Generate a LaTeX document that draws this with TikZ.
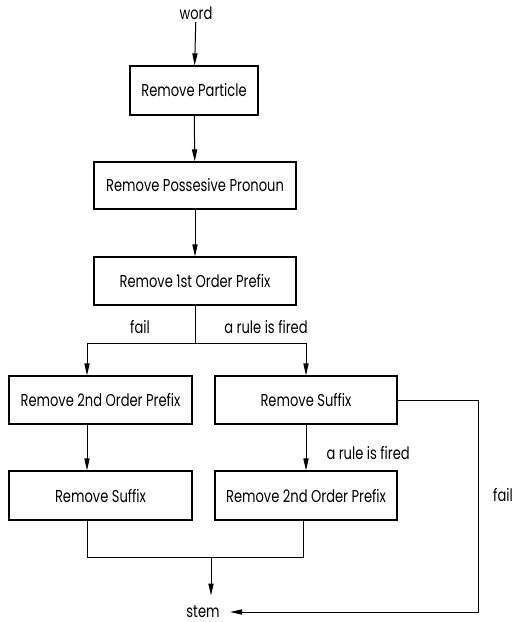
\documentclass[tikz,border=0pt]{standalone}
\usepackage{fontspec}
\newfontfamily\gfont[FakeStretch=0.76]{Poppins}
\usetikzlibrary{arrows.meta}
\tikzset{
  stepbox/.style={draw, line width=.6pt, inner sep=0pt},
  lbl/.style={inner sep=1pt},
}
\begin{document}
\begin{tikzpicture}[x=.5pt, y=-.5pt, font=\gfont\fontsize{8.6}{10}\selectfont, line width=.5pt,
  >={Triangle[length=6pt,width=2.6pt]}]
\useasboundingbox (0,0) rectangle (512,622);
% terminals
\node[lbl] (word) at (196,13) {word};
\node[lbl, inner xsep=5pt] (stem) at (203,612) {stem};
% boxes
\node[stepbox, minimum width=64pt, minimum height=24.5pt] (rpart) at (194,90.5) {Remove Particle};
\node[stepbox, minimum width=101pt, minimum height=23.5pt] (rposs) at (195,185.5) {Remove Possesive Pronoun};
\node[stepbox, minimum width=101pt, minimum height=24pt] (rpre1) at (195,281) {Remove 1st Order Prefix};
\node[stepbox, minimum width=91.5pt, minimum height=24pt] (rpre2a) at (100.5,400) {Remove 2nd Order Prefix};
\node[stepbox, minimum width=91pt, minimum height=24pt] (rsufa) at (306,400) {Remove Suffix};
\node[stepbox, minimum width=91.5pt, minimum height=24.5pt] (rsufb) at (100.5,495.5) {Remove Suffix};
\node[stepbox, minimum width=91pt, minimum height=24.5pt] (rpre2b) at (306,495.5) {Remove 2nd Order Prefix};
% branch points
\coordinate (split) at (195,343);
\coordinate (left) at (87,343);
\coordinate (right) at (306,343);
\coordinate (join) at (211,557);
\coordinate (loop) at (478,400);
% straight flow
\draw[->] (word) -- (rpart);
\draw[->] (rpart) -- (rposs);
\draw[->] (rposs) -- (rpre1);
\draw (rpre1.south -| split) -- (split);
\draw[->] (split) -- (left) -- (left |- rpre2a.north);
\draw[->] (split) -- (right) -- (right |- rsufa.north);
\draw[->] (left |- rpre2a.south) -- (left |- rsufb.north);
\draw[->] (rsufa.south) -- (rpre2b.north);
% merge into stem
\draw (left |- rsufb.south) -- (left |- join) -- (303,557) -- (303,521);
\draw[->, shorten >=4pt] (join) -- (join |- stem.north);
\draw[->] (rsufa.east) -- (loop) -- (loop |- stem) -- (stem.east);
% labels
\node[lbl] (lfail) at (140,327) {fail};
\node[lbl] (lfire) at (266,327) {a rule is fired};
\node[lbl, anchor=west] (lfire2) at (324,453) {a rule is fired};
\node[lbl] (lfail2) at (503,495) {fail};
\end{tikzpicture}
\end{document}
